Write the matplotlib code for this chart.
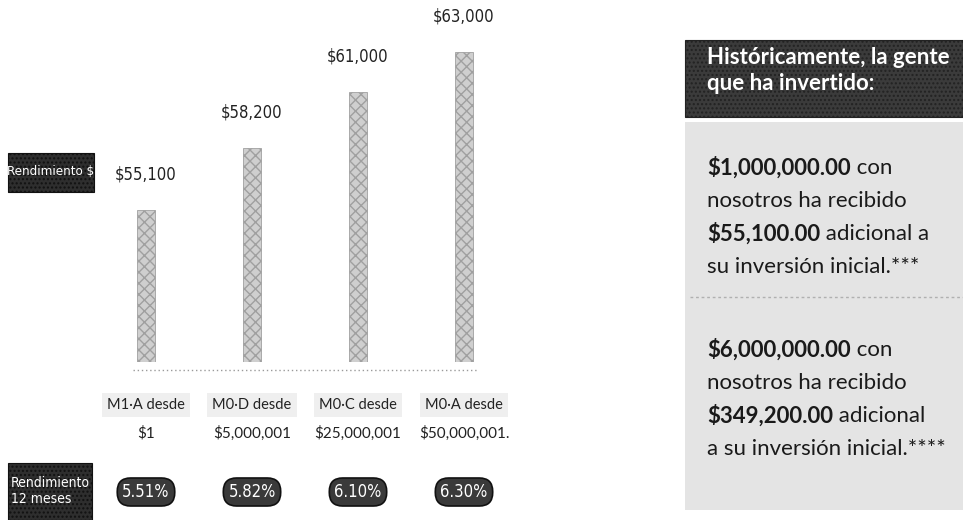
import matplotlib
matplotlib.use("Agg")
import matplotlib.pyplot as plt
from matplotlib.patches import Rectangle

# data
categories = ["M1·A desde", "M0·D desde", "M0·C desde", "M0·A desde"]
minimums = ["$1", "$5,000,001", "$25,000,001", "$50,000,001."]
returns_usd = [55100, 58200, 61000, 63000]
rates = ["5.51%", "5.82%", "6.10%", "6.30%"]

header = ["Históricamente, la gente", "que ha invertido:"]
para1 = [("$1,000,000.00", " con"), ("", "nosotros ha recibido"),
         ("$55,100.00", " adicional a"), ("", "su inversión inicial.***")]
para2 = [("$6,000,000.00", " con"), ("", "nosotros ha recibido"),
         ("$349,200.00", " adicional"), ("", "a su inversión inicial.****")]

NARROW = dict(family=["DejaVu Sans"], stretch="condensed")
SANS = ["Lato", "DejaVu Sans"]
W, H = 963, 520


def fx(x):
    return x / W


def fy(y):
    return 1 - y / H


fig = plt.figure(figsize=(W / 100, H / 100), dpi=100)
fig.patch.set_facecolor("white")

# bar chart
ax = fig.add_axes([fx(93), fy(362), 424 / W, 342 / H])
ymin = 47500
ax.set_xlim(-0.5, 3.5)
ax.set_ylim(ymin, ymin + 342 * 50)
ax.axis("off")
x = range(len(categories))
ax.bar(x, [v - ymin for v in returns_usd], bottom=ymin, width=0.17,
       color="#cfcfcf", edgecolor="#a0a0a0", hatch="xxx", linewidth=0.6)
for i, v in enumerate(returns_usd):
    ax.annotate(f"${v:,}", xy=(i, v), xytext=(0, 36), textcoords="offset pixels",
                ha="center", va="center", fontsize=12, color="#222222", **NARROW)
    ax.annotate(categories[i], xy=(i, ymin), xytext=(0, -43), textcoords="offset pixels",
                ha="center", va="center", fontsize=10.5, family=SANS, color="#222222",
                annotation_clip=False,
                bbox=dict(boxstyle="square,pad=0.35", fc="#efefef", ec="none"))
    ax.annotate(minimums[i], xy=(i, ymin), xytext=(0, -71), textcoords="offset pixels",
                ha="center", va="center", fontsize=11, family=SANS, color="#222222",
                annotation_clip=False)
    ax.annotate(rates[i], xy=(i, ymin), xytext=(0, -130), textcoords="offset pixels",
                ha="center", va="center", fontsize=12, color="white",
                annotation_clip=False, **NARROW,
                bbox=dict(boxstyle="round,pad=0.3,rounding_size=0.8",
                          fc="#3a3a3a", ec="#111111", lw=1.2))
ax.plot([-0.12, 3.12], [ymin - 400, ymin - 400], ls=(0, (1, 2)), color="#9a9a9a",
        lw=1, clip_on=False)

# left labels
fig.patches.append(Rectangle((fx(8), fy(192)), 86 / W, 39 / H, transform=fig.transFigure,
                             fc="#2e2e2e", ec="#111111", hatch="....", lw=0.8))
fig.text(fx(51), fy(172), "Rendimiento $", ha="center", va="center", color="white",
         fontsize=9.5, **NARROW)
fig.patches.append(Rectangle((fx(8), fy(520)), 84 / W, 57 / H, transform=fig.transFigure,
                             fc="#2e2e2e", ec="#111111", hatch="....", lw=0.8))
fig.text(fx(11), fy(491), "Rendimiento\n12 meses", ha="left", va="center", color="white",
         fontsize=10, linespacing=1.1, **NARROW)

# right panel
fig.patches.append(Rectangle((fx(685), fy(117)), 278 / W, 77 / H, transform=fig.transFigure,
                             fc="#3b3b3b", ec="#222222", hatch="....", lw=0.8))
fig.patches.append(Rectangle((fx(685), fy(510)), 278 / W, 388 / H, transform=fig.transFigure,
                             fc="#e4e4e4", ec="none"))
fig.lines.append(plt.Line2D([fx(690), fx(963)], [fy(297), fy(297)], transform=fig.transFigure,
                            color="#b0b0b0", lw=1, ls=(0, (2, 2))))
for k, line in enumerate(header):
    fig.text(fx(707), fy(57 + k * 27), line, ha="left", va="center", color="white",
             fontsize=16, family=SANS, weight="bold")

renderer = fig.canvas.get_renderer()


def body_lines(lines, y0):
    for k, (bold, rest) in enumerate(lines):
        y = fy(y0 + k * 33)
        xpos = fx(707)
        if bold:
            t = fig.text(xpos, y, bold, ha="left", va="center", fontsize=16,
                         family=SANS, weight="bold", color="#1a1a1a")
            bb = t.get_window_extent(renderer)
            xpos = bb.x1 / fig.bbox.width
        fig.text(xpos, y, rest, ha="left", va="center", fontsize=16,
                 family=SANS, color="#1a1a1a")


body_lines(para1, 168)
body_lines(para2, 350)

fig.savefig("out.png", dpi=100)
